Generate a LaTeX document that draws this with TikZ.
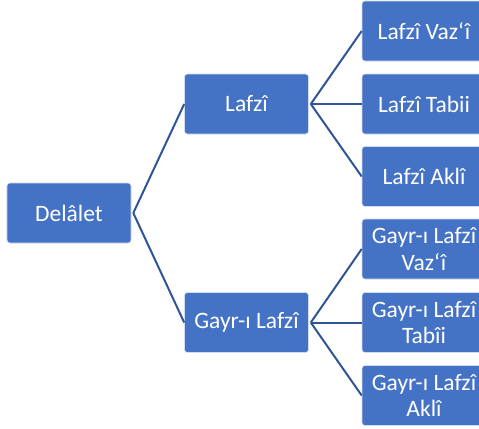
\documentclass[tikz,border=0pt]{standalone}
\usepackage{fontspec}
\setmainfont{Carlito}
\definecolor{boxblue}{RGB}{68,114,196}
\definecolor{lineblue}{RGB}{47,85,151}
\tikzset{box/.style = {rectangle, rounded corners=3bp, fill=boxblue, draw=white!75!boxblue, line width=0.6bp,
                       minimum width=124bp, minimum height=60bp, text=white, align=center, inner sep=0pt,
                       font=\fontsize{23.5bp}{26.5bp}\selectfont},
         link/.style = {draw=lineblue, line width=2bp}}

\begin{document}
\begin{tikzpicture}[x=1bp, y=-1bp]
\useasboundingbox (0,0) rectangle (479,428);
\node [box] (del) at (69,213) {Delâlet};
\node [box] (laf) at (246.5,104) {Lafzî};
\node [box] (glaf) at (246.5,322.5) {Gayr-ı Lafzî};
\node [box] (lvaz) at (424,31) {Lafzî Vaz‘î};
\node [box] (ltab) at (424,104) {Lafzî Tabii};
\node [box] (lakl) at (424,176.5) {Lafzî Aklî};
\node [box] (gvaz) at (424,249) {Gayr-ı Lafzî\\Vaz‘î};
\node [box] (gtab) at (424,322.5) {Gayr-ı Lafzî\\Tabîi};
\node [box] (gakl) at (424,395.5) {Gayr-ı Lafzî\\Aklî};
\draw [link] ([xshift=2bp]del.east) -- (laf.west);
\draw [link] ([xshift=2bp]del.east) -- (glaf.west);
\draw [link] ([xshift=2bp]laf.east) -- (lvaz.west);
\draw [link] ([xshift=2bp]laf.east) -- (ltab.west);
\draw [link] ([xshift=2bp]laf.east) -- (lakl.west);
\draw [link] ([xshift=2bp]glaf.east) -- (gvaz.west);
\draw [link] ([xshift=2bp]glaf.east) -- (gtab.west);
\draw [link] ([xshift=2bp]glaf.east) -- (gakl.west);
\end{tikzpicture}
\end{document}
